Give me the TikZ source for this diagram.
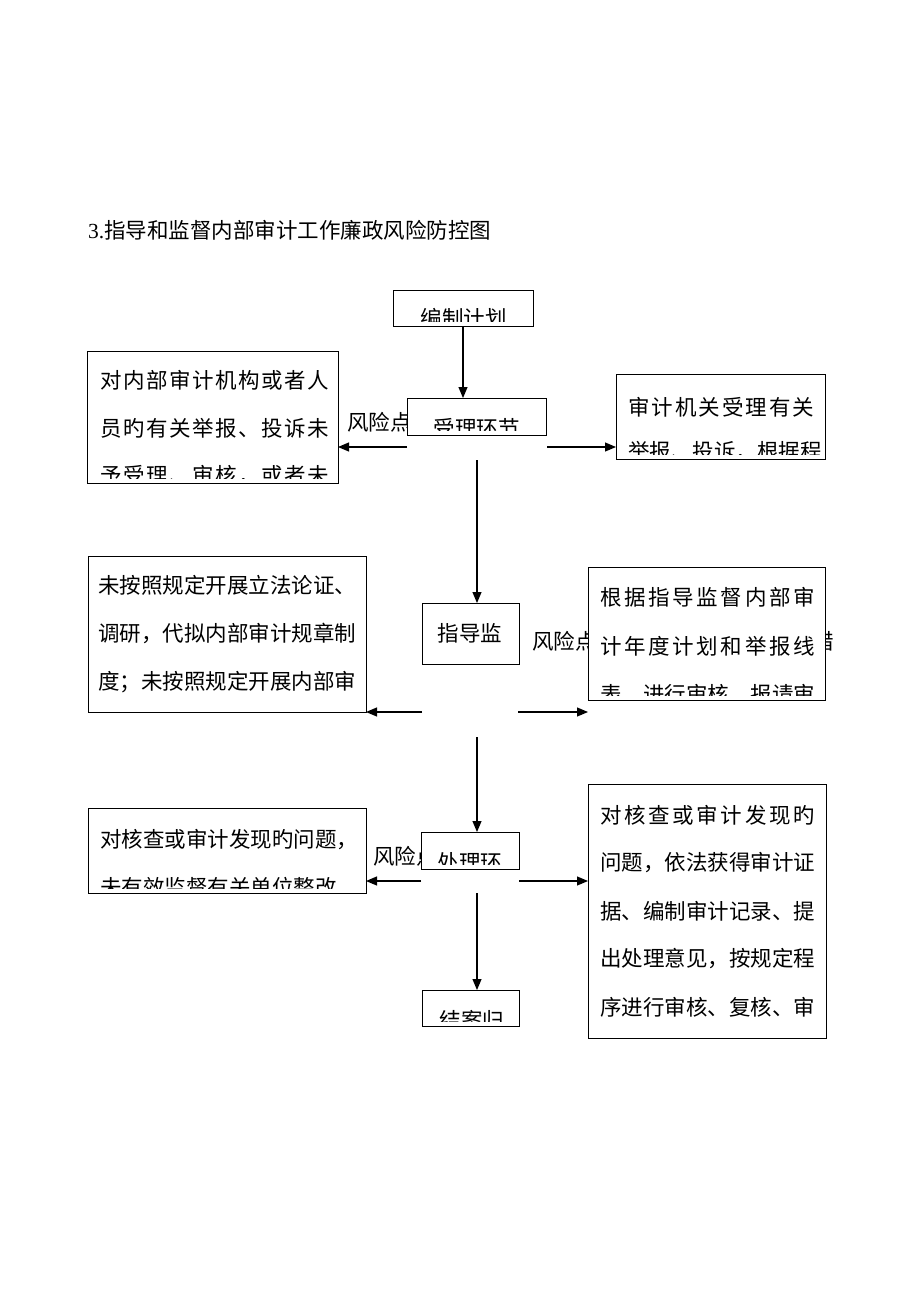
\documentclass[tikz,border=0pt]{standalone}
\usepackage{fontspec}
\newfontfamily\cjk{Noto Sans CJK SC}
\newfontfamily\latn{Liberation Serif}
\usetikzlibrary{arrows.meta}
\def\spr#1{#1\sprB}
\def\sprB#1{\ifx#1\relax\else\hfil#1\expandafter\sprB\fi}
\newcommand\jl[2]{\hbox to #1pt{\spr#2\relax}}
\tikzset{
  every node/.style={inner sep=0pt, outer sep=0pt, font=\cjk\fontsize{21.5}{21.5}\selectfont},
  box/.style={draw=black, fill=white, line width=1pt},
  arr/.style={line width=1.1pt, -{Triangle[length=11pt,width=9pt]}},
  lbl/.style={anchor=west}
}
\begin{document}
\begin{tikzpicture}[x=1pt,y=-1pt]
\fill[white] (0,0) rectangle (920,1302);
\useasboundingbox (0,0) rectangle (920,1302);

% title
\node[lbl] (title) at (88,230) {{\latn 3.}指导和监督内部审计工作廉政风险防控图};

% risk labels (partly hidden behind boxes)
\node[lbl] (risk1) at (347,422) {风险点};
\node[lbl] (risk2) at (532,641) {风险点};
\node (cuo) at (823.5,641) {措};
\node[lbl] (risk3) at (373,856) {风险点};

% boxes
\node[box, minimum width=140pt, minimum height=36pt] (b1) at (463,308) {};
\node[box, minimum width=139pt, minimum height=37pt] (b2) at (476.5,416.5) {};
\node[box, minimum width=97pt, minimum height=61pt] (b3) at (470.5,633.5) {};
\node[box, minimum width=98pt, minimum height=37pt] (b4) at (470,850.5) {};
\node[box, minimum width=97pt, minimum height=36pt] (b5) at (470.5,1008) {};
\node[box, minimum width=251pt, minimum height=132pt] (lb1) at (212.5,417) {};
\node[box, minimum width=278pt, minimum height=156pt] (lb2) at (227,634) {};
\node[box, minimum width=278pt, minimum height=85pt] (lb3) at (227,850.5) {};
\node[box, minimum width=209pt, minimum height=85pt] (rb1) at (720.5,416.5) {};
\node[box, minimum width=237pt, minimum height=133pt] (rb2) at (706.5,633.5) {};
\node[box, minimum width=238pt, minimum height=254pt] (rb3) at (707,911) {};

% box texts (clipped like the reference)
\begin{scope}
\clip ([yshift=5pt]b1.south west) rectangle (b1.north east);
\node (t1) at (463.5,318) {编制计划};
\end{scope}
\begin{scope}
\clip ([yshift=5pt]b2.south west) rectangle (b2.north east);
\node (t2) at (476.5,428) {受理环节};
\end{scope}
\node (t3) at (470,633) {指导监};
\begin{scope}
\clip ([yshift=5pt]b4.south west) rectangle (b4.north east);
\node (t4) at (470,862) {处理环};
\end{scope}
\begin{scope}
\clip ([yshift=5pt]b5.south west) rectangle (b5.north east);
\node (t5) at (472,1020) {结案归};
\end{scope}

\begin{scope}
\clip ([yshift=5pt]lb1.south west) rectangle (lb1.north east);
\node[lbl] (lb1a) at (100,380) {\jl{229}{对内部审计机构或者人}};
\node[lbl] (lb1b) at (100,428) {\jl{229}{员旳有关举报、投诉未}};
\node[lbl] (lb1c) at (100,476) {\jl{229}{予受理、审核，或者未}};
\end{scope}

\begin{scope}
\clip ([yshift=5pt]rb1.south west) rectangle (rb1.north east);
\node[lbl] (rb1a) at (628,407) {\jl{186}{审计机关受理有关}};
\node[lbl] (rb1b) at (628,452) {\jl{186}{举报、投诉，根据程}};
\end{scope}

\node[lbl] (lb2a) at (98,585) {\jl{258}{未按照规定开展立法论证、}};
\node[lbl] (lb2b) at (98,633) {\jl{258}{调研，代拟内部审计规章制}};
\node[lbl] (lb2c) at (98,682) {\jl{258}{度；未按照规定开展内部审}};

\begin{scope}
\clip ([yshift=5pt]rb2.south west) rectangle (rb2.north east);
\node[lbl] (rb2a) at (600,597) {\jl{215}{根据指导监督内部审}};
\node[lbl] (rb2b) at (600,646) {\jl{215}{计年度计划和举报线}};
\node[lbl] (rb2c) at (600,695) {\jl{215}{表，进行审核，报请审}};
\end{scope}

\begin{scope}
\clip ([yshift=5pt]lb3.south west) rectangle (lb3.north east);
\node[lbl] (lb3a) at (100,840) {\jl{257}{对核查或审计发现旳问题，}};
\node[lbl] (lb3b) at (100,887) {未有效监督有关单位整改};
\end{scope}

\node[lbl] (rb3a) at (600,815) {\jl{215}{对核查或审计发现旳}};
\node[lbl] (rb3b) at (600,863) {\jl{215}{问题，依法获得审计证}};
\node[lbl] (rb3c) at (600,911) {\jl{215}{据、编制审计记录、提}};
\node[lbl] (rb3d) at (600,959) {\jl{215}{出处理意见，按规定程}};
\node[lbl] (rb3e) at (600,1007) {\jl{215}{序进行审核、复核、审}};

% connector start points
\coordinate (s1) at (477,460);
\coordinate (l1) at (407,447);
\coordinate (r1) at (547,447);
\coordinate (s2) at (477,737);
\coordinate (l2) at (422,712);
\coordinate (r2) at (518,712);
\coordinate (s3) at (477,893);
\coordinate (l3) at (421,881);
\coordinate (r3) at (519,881);

% connectors
\draw[arr] (b1.south) -- (b1.south |- b2.north);
\draw[arr] (l1) -- (lb1.east |- l1);
\draw[arr] (r1) -- (rb1.west |- r1);
\draw[arr] (s1) -- (s1 |- b3.north);
\draw[arr] (l2) -- (lb2.east |- l2);
\draw[arr] (r2) -- (rb2.west |- r2);
\draw[arr] (s2) -- (s2 |- b4.north);
\draw[arr] (l3) -- (lb3.east |- l3);
\draw[arr] (r3) -- (rb3.west |- r3);
\draw[arr] (s3) -- (s3 |- b5.north);
\end{tikzpicture}
\end{document}
